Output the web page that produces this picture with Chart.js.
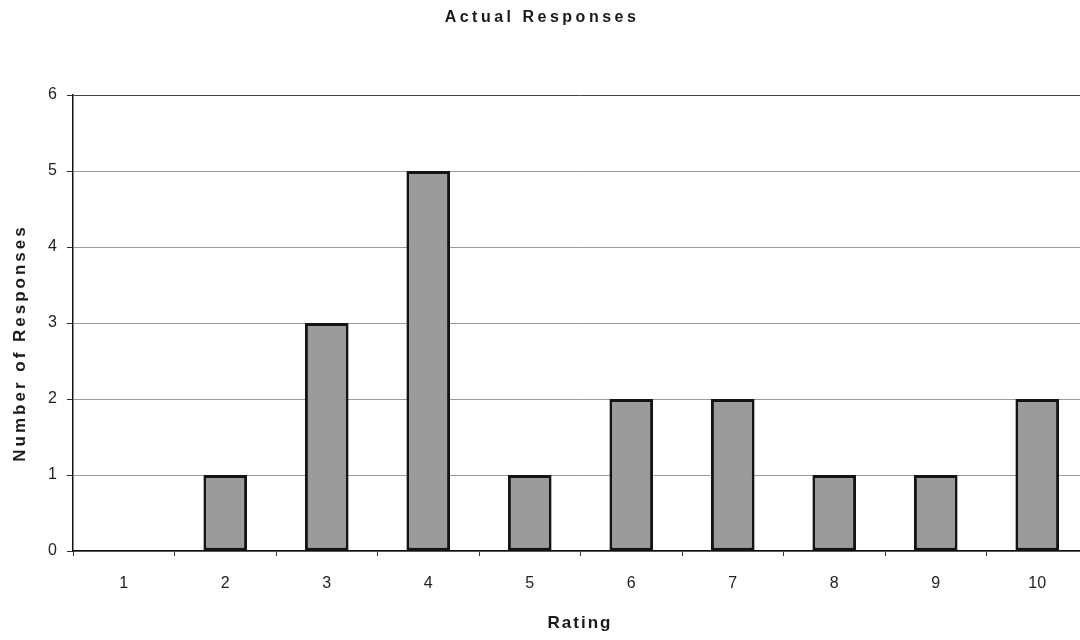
<!DOCTYPE html>
<html>
<head>
<meta charset="utf-8">
<script src="https://cdn.jsdelivr.net/npm/chart.js@4.4.1/dist/chart.umd.min.js"></script>
<style>
  html, body { margin: 0; padding: 0; background: #ffffff; overflow: hidden; }
  #wrap { width: 1090px; height: 640px; }
</style>
</head>
<body>
<div id="wrap"><canvas id="chart" width="1090" height="640"></canvas></div>
<script>
// Ratings 1..10 and how many responses each received
const ratings = ['1', '2', '3', '4', '5', '6', '7', '8', '9', '10'];
const responseCounts = [0, 1, 3, 5, 1, 2, 2, 1, 1, 2];
const yTicks = [0, 1, 2, 3, 4, 5, 6];

const chartTitle = 'Actual Responses';
const xTitle = 'Rating';
const yTitle = 'Number of Responses';

const FONT = '"Liberation Sans", Arial, Helvetica, sans-serif';

// Letter-spaced bold titles drawn on the canvas
const spacedTitles = {
  id: 'spacedTitles',
  afterDraw(chart) {
    const ctx = chart.ctx;
    ctx.save();
    ctx.fillStyle = '#1a1a1a';
    ctx.textAlign = 'center';
    ctx.textBaseline = 'middle';

    ctx.font = 'bold 16px ' + FONT;
    ctx.letterSpacing = '3.5px';
    ctx.fillText(chartTitle, 542, 18);

    ctx.font = 'bold 17px ' + FONT;
    ctx.letterSpacing = '2px';
    ctx.fillText(xTitle, 580, 623);

    ctx.translate(20, 343);
    ctx.rotate(-Math.PI / 2);
    ctx.font = 'bold 17px ' + FONT;
    ctx.letterSpacing = '3px';
    ctx.fillText(yTitle, 0, 0);
    ctx.restore();
  }
};

new Chart(document.getElementById('chart'), {
  type: 'bar',
  data: {
    labels: ratings,
    datasets: [{
      data: responseCounts,
      backgroundColor: '#9b9b9b',
      borderColor: '#141414',
      borderWidth: 3,
      borderSkipped: false,
      barPercentage: 0.43,
      categoryPercentage: 1.0
    }]
  },
  options: {
    responsive: false,
    animation: false,
    devicePixelRatio: 1,
    layout: { padding: { top: 95, right: 2, left: 0, bottom: 0 } },
    plugins: {
      legend: { display: false },
      title: { display: false },
      tooltip: { enabled: false }
    },
    scales: {
      x: {
        offset: true,
        grid: {
          offset: true,
          drawOnChartArea: false,
          drawTicks: true,
          tickLength: 5,
          tickColor: '#333333',
          tickWidth: 1
        },
        border: { display: true, color: '#111111', width: 1.5 },
        ticks: {
          color: '#222222',
          font: { family: FONT, size: 16 },
          padding: 18,
          maxRotation: 0
        },
        afterFit(scale) { scale.height = 89; }
      },
      y: {
        min: 0,
        max: 6,
        afterBuildTicks(scale) { scale.ticks = yTicks.map(v => ({ value: v })); },
        grid: {
          color: ctx => (ctx.tick && ctx.tick.value === 6) ? '#444444' : '#9a9a9a',
          lineWidth: 1,
          drawTicks: true,
          tickLength: 6,
          tickColor: '#333333'
        },
        border: { display: true, color: '#111111', width: 1.5 },
        ticks: {
          color: '#222222',
          font: { family: FONT, size: 16 },
          padding: 10
        },
        afterFit(scale) { scale.width = 73; }
      }
    }
  },
  plugins: [spacedTitles]
});
</script>
</body>
</html>
